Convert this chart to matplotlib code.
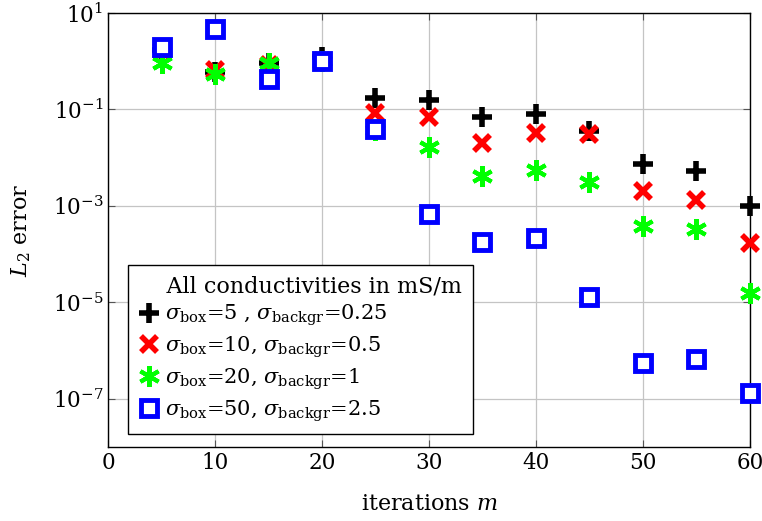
import numpy as np
import matplotlib.pyplot as plt
from matplotlib.ticker import FixedLocator, NullLocator

plt.rcParams['font.family'] = ['DejaVu Serif']
plt.rcParams['mathtext.fontset'] = 'dejavuserif'

iters = [5, 10, 15, 20, 25, 30, 35, 40, 45, 50, 55, 60]

err_box5 = [1.7, 0.6, 0.9, 1.2, 0.17, 0.16, 0.069, 0.079, 0.035, 0.0074, 0.0052, 0.001]
err_box10 = [1.6, 0.65, 0.85, 1.0, 0.085, 0.069, 0.02, 0.032, 0.031, 0.002, 0.0013, 1.7e-4]
err_box20 = [0.9, 0.54, 0.9, 1.0, 0.038, 0.017, 0.0042, 0.0055, 0.0031, 3.8e-4, 3.3e-4, 1.55e-5]
err_box50 = [2.0, 4.6, 0.43, 1.0, 0.039, 6.8e-4, 1.8e-4, 2.2e-4, 1.3e-5, 5.5e-7, 6.6e-7, 1.3e-7]

labels = [r'$\sigma_{\mathrm{box}}$=5 , $\sigma_{\mathrm{backgr}}$=0.25',
          r'$\sigma_{\mathrm{box}}$=10, $\sigma_{\mathrm{backgr}}$=0.5',
          r'$\sigma_{\mathrm{box}}$=20, $\sigma_{\mathrm{backgr}}$=1',
          r'$\sigma_{\mathrm{box}}$=50, $\sigma_{\mathrm{backgr}}$=2.5']

fig = plt.figure(figsize=(7.62, 5.21), dpi=100)
ax = fig.add_axes([108/762, 1-447/521, 642/762, 434/521])

ax.plot(iters, err_box5, ls='none', marker='+', color='black', ms=15, mew=4, clip_on=False, label=labels[0], zorder=3)
ax.plot(iters, err_box10, ls='none', marker='x', color='red', ms=11, mew=4, clip_on=False, label=labels[1], zorder=3)
ax.plot(iters, err_box20, ls='none', marker=(6, 2, 0), color='#00ff00', ms=15, mew=3, clip_on=False, label=labels[2], zorder=3)
ax.plot(iters, err_box50, ls='none', marker='s', color='blue', mfc='white', ms=11, mew=3.5, clip_on=False, label=labels[3], zorder=3)

ax.set_yscale('log')
ax.set_xlim(0, 60)
ax.set_ylim(1e-8, 10)
ax.xaxis.set_major_locator(FixedLocator([0, 10, 20, 30, 40, 50, 60]))
ax.yaxis.set_major_locator(FixedLocator([1e-7, 1e-5, 1e-3, 1e-1, 10]))
ax.yaxis.set_minor_locator(NullLocator())
ax.grid(True, color='#c4c4c4', lw=0.9)
ax.set_axisbelow(True)
ax.tick_params(direction='in', top=True, right=True, labelsize=15.5, length=5, color='#555555')
for s in ax.spines.values():
    s.set_linewidth(1.0)

ax.set_xlabel(r'iterations $m$', fontsize=16, labelpad=14)
ax.set_ylabel(r'$L_2$ error', fontsize=16, labelpad=14)

leg = ax.legend(loc='lower left', bbox_to_anchor=(0.031, 0.03), fontsize=15,
                title='    All conductivities in mS/m', title_fontsize=16,
                alignment='left',
                fancybox=False, edgecolor='black', framealpha=1,
                handlelength=1.0, handletextpad=0.3, borderpad=0.5,
                labelspacing=0.3, borderaxespad=0)
leg._legend_box.sep = 4
leg.get_frame().set_linewidth(1.0)
leg.set_zorder(5)

fig.savefig('out.png', dpi=100)
